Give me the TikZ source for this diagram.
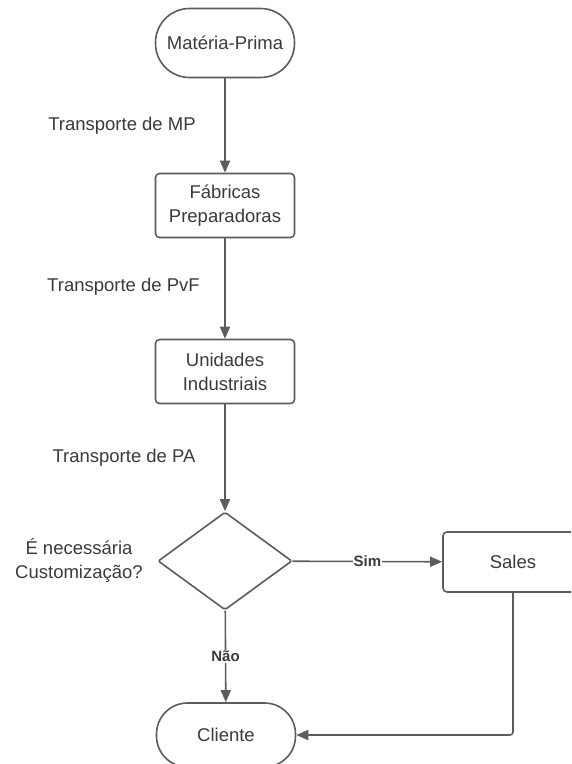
\documentclass[tikz,border=0pt]{standalone}
\usepackage{fontspec}
\setmainfont{Liberation Sans}
\usetikzlibrary{shapes.geometric,arrows.meta}
\definecolor{linec}{HTML}{5C5C5C}
\definecolor{textc}{HTML}{3A3A3A}
\begin{document}
\begin{tikzpicture}[x=1pt,y=-1pt,
  every node/.style={text=textc, font=\fontsize{18.5}{24}\selectfont, align=center, inner sep=0pt},
  shapebox/.style={draw=linec, line width=1.6pt},
  term/.style={shapebox, minimum width=139pt, minimum height=69pt, rounded corners=34pt},
  proc/.style={shapebox, minimum width=139pt, minimum height=64pt, rounded corners=4pt},
  decision/.style={shapebox, diamond, minimum width=134pt, minimum height=98pt, rounded corners=2pt},
  conn/.style={draw=linec, line width=1.6pt, -{Triangle[length=12pt,width=10pt]}},
  edgelabel/.style={fill=white, font=\bfseries\fontsize{15}{17}\selectfont, inner sep=1pt},
  sidelabel/.style={}
]
\useasboundingbox (0,0) rectangle (571,764);
\clip (0,0) rectangle (571,764);

\node[term] (mp) at (225,43) {Matéria-Prima};
\node[proc] (fab) at (225,205.5) {Fábricas\\Preparadoras};
\node[proc] (uni) at (225,371.5) {Unidades\\Industriais};
\node[decision] (dec) at (225,561) {};
\node[proc, minimum width=140pt, minimum height=60pt] (sales) at (513,562) {Sales};
\node[term, minimum height=64pt, rounded corners=31pt] (cli) at (226,735) {Cliente};

\node[sidelabel] (l1) at (122,126) {Transporte de MP};
\node[sidelabel] (l2) at (123.5,287) {Transporte de PvF};
\node[sidelabel] (l3) at (124,458) {Transporte de PA};
\node[sidelabel] (q) at (79,560) {É necessária\\Customização?};

\draw[conn] (mp) -- (fab);
\draw[conn] (fab) -- (uni);
\draw[conn] (uni) -- (dec);
\draw[conn] (dec) -- node[edgelabel] (sim) {Sim} (sales);
\draw[conn] (dec) -- node[edgelabel] (nao) {Não} (cli);
\draw[conn, rounded corners=3pt] (sales.south) |- (cli.east);
\end{tikzpicture}
\end{document}
